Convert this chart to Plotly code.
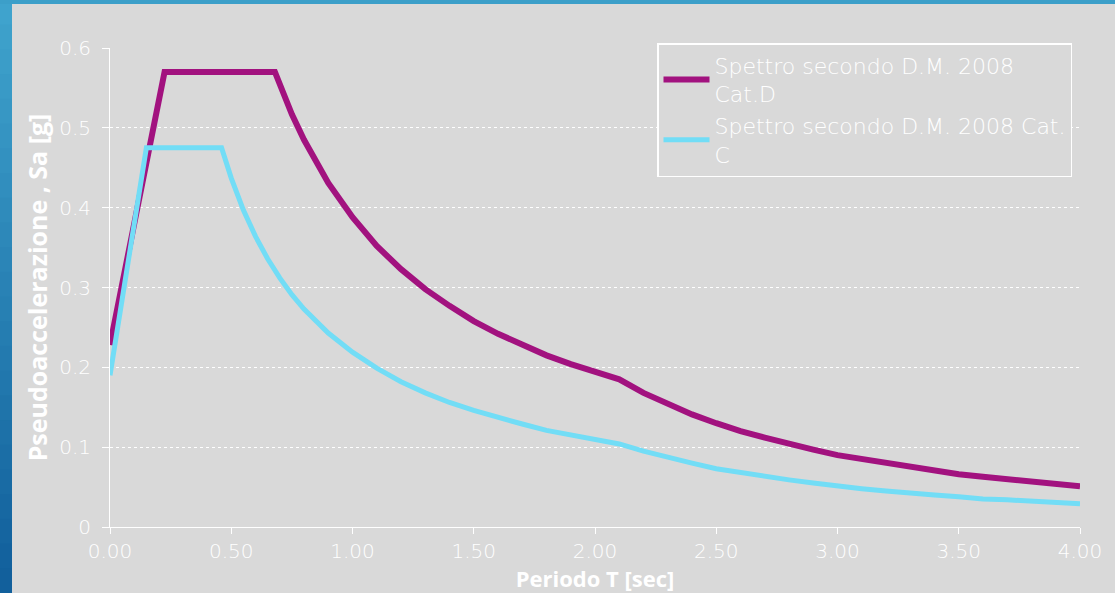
import plotly.graph_objects as go

# Periodo T [sec] and Sa [g]
T_D = [0.00, 0.225, 0.68, 0.75, 0.80, 0.85, 0.90, 1.00, 1.10, 1.20, 1.30, 1.40, 1.50,
       1.60, 1.70, 1.80, 1.90, 2.00, 2.10, 2.20, 2.30, 2.40, 2.50, 2.60, 2.70, 2.80,
       2.90, 3.00, 3.10, 3.20, 3.30, 3.40, 3.50, 3.60, 3.70, 3.80, 3.90, 4.00]
Sa_D = [0.228, 0.570, 0.570, 0.517, 0.485, 0.456, 0.431, 0.388, 0.352, 0.323, 0.298,
        0.277, 0.258, 0.242, 0.228, 0.215, 0.204, 0.194, 0.185, 0.168, 0.154, 0.141,
        0.130, 0.120, 0.112, 0.104, 0.097, 0.090, 0.085, 0.080, 0.075, 0.070, 0.066,
        0.063, 0.060, 0.056, 0.054, 0.051]

T_C = [0.00, 0.15, 0.46, 0.50, 0.55, 0.60, 0.65, 0.70, 0.75, 0.80, 0.90, 1.00, 1.10,
       1.20, 1.30, 1.40, 1.50, 1.60, 1.70, 1.80, 1.90, 2.00, 2.10, 2.20, 2.30, 2.40,
       2.50, 2.60, 2.70, 2.80, 2.90, 3.00, 3.10, 3.20, 3.30, 3.40, 3.50, 3.60, 3.70,
       3.80, 3.90, 4.00]
Sa_C = [0.190, 0.475, 0.475, 0.437, 0.397, 0.364, 0.336, 0.312, 0.291, 0.273, 0.243,
        0.219, 0.199, 0.182, 0.168, 0.156, 0.146, 0.137, 0.129, 0.121, 0.115, 0.109,
        0.104, 0.095, 0.087, 0.080, 0.073, 0.068, 0.063, 0.059, 0.055, 0.051, 0.048,
        0.045, 0.042, 0.040, 0.038, 0.035, 0.034, 0.032, 0.030, 0.029]

name_D = "Spettro secondo D.M. 2008<br>Cat.D"
name_C = "Spettro secondo D.M. 2008 Cat.<br>C"

x_ticks = [0, 0.5, 1, 1.5, 2, 2.5, 3, 3.5, 4]
x_ticklabels = ["0.00", "0.50", "1.00", "1.50", "2.00", "2.50", "3.00", "3.50", "4.00"]
y_ticks = [0, 0.1, 0.2, 0.3, 0.4, 0.5, 0.6]
y_ticklabels = ["0", "0.1", "0.2", "0.3", "0.4", "0.5", "0.6"]

W, H = 1115, 593
ML, MR, MT, MB = 110, 35, 48, 66
PW, PH = W - ML - MR, H - MT - MB

def px_x(p):
    return (p - ML) / PW

def px_y(p):
    return (H - MB - p) / PH

FONT = "Open Sans"
LIGHT = "DejaVu Sans"
GRAY = "#D9D9D9"

fig = go.Figure()
fig.add_trace(go.Scatter(x=T_D, y=Sa_D, mode="lines", name=name_D,
                         line=dict(color="#A2127F", width=6)))
fig.add_trace(go.Scatter(x=T_C, y=Sa_C, mode="lines", name=name_C,
                         line=dict(color="#72DDF6", width=5)))

shapes = []
# left blue gradient strip
n = 24
top_c = (0x3F, 0xA3, 0xCD)
bot_c = (0x12, 0x60, 0x9C)
for i in range(n):
    f = i / (n - 1)
    c = tuple(int(top_c[k] + (bot_c[k] - top_c[k]) * f) for k in range(3))
    y0 = i * H / n
    y1 = (i + 1) * H / n + 1
    shapes.append(dict(type="rect", xref="paper", yref="paper",
                       x0=px_x(0), x1=px_x(12), y0=px_y(y1), y1=px_y(y0),
                       fillcolor="rgb(%d,%d,%d)" % c, line=dict(width=0), layer="below"))
# top strip
shapes.append(dict(type="rect", xref="paper", yref="paper",
                   x0=px_x(0), x1=px_x(W), y0=px_y(4), y1=px_y(0),
                   fillcolor="#3C9FC9", line=dict(width=0), layer="below"))

TICKFONT = dict(family=LIGHT, size=20, color="white", weight=200)

fig.update_layout(
    width=W, height=H,
    margin=dict(l=ML, r=MR, t=MT, b=MB, autoexpand=False),
    paper_bgcolor=GRAY, plot_bgcolor=GRAY,
    font=dict(family=FONT, color="white", size=22),
    shapes=shapes,
    showlegend=True,
    legend=dict(x=px_x(657), y=px_y(43), xanchor="left", yanchor="top",
                bgcolor=GRAY, bordercolor="white", borderwidth=1.5,
                font=dict(family=LIGHT, size=22, color="white", weight=200),
                tracegroupgap=0, itemwidth=46),
    xaxis=dict(range=[0, 4], tickvals=x_ticks, ticktext=x_ticklabels,
               showgrid=False, zeroline=False,
               showline=True, linecolor="white", linewidth=1,
               ticks="outside", ticklen=6, tickcolor="white", tickwidth=1,
               tickfont=TICKFONT,
               title=dict(text="<b>Periodo T [sec]</b>", standoff=4,
                          font=dict(family=FONT, size=22, color="white")),
               automargin=False),
    yaxis=dict(range=[0, 0.6], tickvals=y_ticks, ticktext=y_ticklabels,
               showgrid=True, gridcolor="white", gridwidth=1, griddash="dot",
               zeroline=False,
               showline=True, linecolor="white", linewidth=1,
               ticks="outside", ticklen=7, tickcolor="white", tickwidth=1,
               ticklabelstandoff=7,
               tickfont=TICKFONT,
               title=dict(text="<b>Pseudoaccelerazione , Sa [g]</b>", standoff=4,
                          font=dict(family=FONT, size=25, color="white")),
               automargin=False),
)

fig.write_html("out.html", config={"displayModeBar": False},
               post_script="document.body.style.margin='0';document.body.style.overflow='hidden';")
